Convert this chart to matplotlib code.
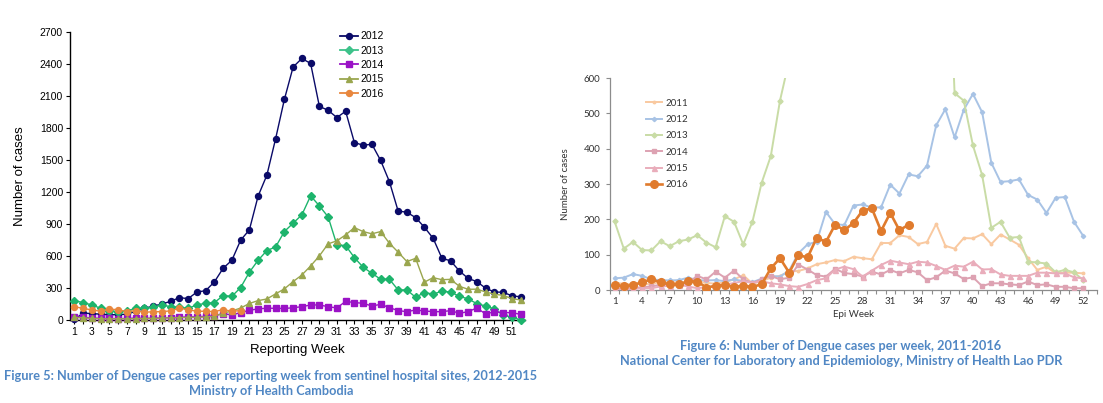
import numpy as np
import matplotlib.pyplot as plt
from matplotlib.ticker import MultipleLocator, FixedLocator

# ---- Cambodia, sentinel sites (left chart) ----
kh_weeks = np.arange(1, 53)
kh_2012 = [5, 65, 60, 55, 50, 50, 55, 80, 110, 130, 150, 175, 210, 200, 262, 275, 357, 485, 560, 748,
           845, 1162, 1358, 1700, 2068, 2372, 2452, 2405, 2003, 1966, 1898, 1957, 1664, 1638, 1648, 1496,
           1298, 1022, 1010, 960, 870, 766, 580, 554, 460, 390, 360, 298, 263, 260, 227, 217]
kh_2013 = [182, 163, 141, 110, 88, 78, 85, 110, 110, 119, 141, 125, 119, 110, 141, 157, 163, 229, 222, 304,
           448, 560, 651, 685, 829, 908, 986, 1164, 1070, 967, 704, 698, 585, 495, 438, 382, 382, 282, 282,
           213, 257, 243, 270, 262, 222, 198, 153, 131, 103, 44, 28, 0]
kh_2014 = [31, 25, 20, 15, 15, 12, 15, 18, 15, 18, 20, 22, 25, 30, 30, 35, 40, 60, 47, 70,
           90, 105, 110, 110, 108, 115, 125, 141, 141, 125, 113, 175, 163, 157, 131, 147, 116, 88, 78,
           94, 85, 78, 78, 88, 63, 78, 113, 56, 78, 69, 69, 53]
kh_2015 = [25, 20, 15, 12, 10, 12, 10, 12, 15, 15, 18, 20, 22, 25, 25, 28, 35, 63, 85, 112,
           155, 182, 197, 245, 292, 360, 422, 507, 601, 714, 742, 798, 866, 829, 808, 829, 720, 636, 548,
           578, 355, 397, 378, 381, 316, 288, 289, 263, 242, 231, 200, 188]
kh_2016 = [126, 108, 95, 82, 104, 95, 79, 88, 72, 78, 78, 86, 110, 97, 82, 82, 78, 98, 82, 88]

# ---- Lao PDR (right chart) ----
la_weeks = np.arange(1, 53)
la_2011 = [20, 18, 15, 20, 15, 25, 20, 22, 20, 25, 20, 18, 22, 30, 42, 18, 25, 35, 40, 52,
           54, 61, 73, 78, 85, 82, 94, 90, 87, 133, 133, 155, 150, 130, 136, 187, 125, 117, 147, 146,
           158, 130, 157, 143, 128, 90, 57, 66, 47, 49, 49, 47]
la_2012 = [33, 35, 45, 40, 30, 28, 27, 28, 35, 28, 27, 28, 25, 30, 25, 22, 32, 40, 38, 55,
           104, 129, 137, 221, 186, 184, 239, 242, 233, 234, 298, 273, 327, 322, 352, 466, 512, 432, 510,
           555, 503, 360, 306, 308, 313, 269, 256, 218, 261, 263, 193, 153]
la_2013 = [194, 117, 136, 113, 112, 138, 124, 138, 143, 155, 134, 121, 209, 193, 129, 193, 303, 379, 536,
           650, 820, 1000, 1150, 1300, 1450, 1550, 1650, 1700, 1750, 1700, 1650, 1600, 1500, 1400, 1300,
           1250, 1200, 557, 536, 409, 325, 176, 193, 148, 150, 80, 78, 75, 50, 57, 50, 28]
la_2014 = [5, 3, 5, 8, 10, 15, 18, 15, 20, 40, 30, 52, 35, 55, 30, 20, 30, 40, 30, 35,
           72, 58, 42, 38, 60, 48, 45, 38, 52, 44, 57, 47, 57, 50, 28, 36, 55, 47, 31, 36,
           11, 19, 19, 16, 14, 24, 14, 16, 9, 9, 5, 5]
la_2015 = [0, 2, 3, 5, 5, 10, 12, 15, 10, 5, 8, 10, 15, 20, 25, 20, 25, 19, 16, 11,
           9, 17, 28, 33, 58, 66, 59, 38, 55, 71, 83, 78, 73, 80, 78, 68, 57, 69, 66, 80,
           58, 59, 44, 40, 40, 40, 49, 49, 47, 47, 36, 33]
la_2016 = [14, 11, 14, 22, 30, 22, 16, 16, 25, 24, 7, 12, 14, 9, 12, 9, 16, 61, 90, 49,
           99, 92, 148, 136, 185, 169, 190, 225, 231, 167, 218, 169, 185]

fig = plt.figure(figsize=(11.03, 4.03), dpi=100)

# ================= left chart =================
ax1 = fig.add_axes([70 / 1103, 1 - 320 / 403, 455 / 1103, 288 / 403])
arial = 'Liberation Sans'

kh_series = [
    ('2012', kh_2012, '#0A0A68', 'o', 4.3, '#0A0A68'),
    ('2013', kh_2013, '#1DB46C', 'D', 4.0, '#3DC28A'),
    ('2014', kh_2014, '#9A12C6', 's', 4.2, '#9A12C6'),
    ('2015', kh_2015, '#9AA64E', '^', 4.8, '#9AA64E'),
    ('2016', kh_2016, '#E8873E', 'o', 4.3, '#E8873E'),
]
handles = []
for i, (lab, vals, col, mk, ms, legcol) in enumerate(kh_series):
    ax1.plot(kh_weeks[:len(vals)], vals, color=col, marker=mk, ms=ms, lw=1.0,
             mec=col, mfc=col, zorder=3 + i, clip_on=False)
    h, = ax1.plot([], [], color=legcol, marker=mk, ms=ms, lw=1.3, mec=legcol, mfc=legcol)
    handles.append(h)

ax1.set_xlim(0.5, 52.5)
ax1.set_ylim(0, 2700)
ax1.xaxis.set_major_locator(FixedLocator(np.arange(1, 53, 2)))
ax1.xaxis.set_minor_locator(FixedLocator(np.arange(2, 53, 2)))
ax1.yaxis.set_major_locator(MultipleLocator(300))
for s in ['top', 'right']:
    ax1.spines[s].set_visible(False)
ax1.spines['left'].set_linewidth(1.0)
ax1.spines['bottom'].set_linewidth(1.0)
ax1.tick_params(axis='both', direction='out', length=3, width=0.8, labelsize=7.5, pad=2)
ax1.tick_params(axis='x', which='minor', direction='out', length=3, width=0.8)
for t in ax1.get_xticklabels() + ax1.get_yticklabels():
    t.set_fontfamily(arial)
ax1.set_xlabel('Reporting Week', fontsize=9.5, family=arial, labelpad=5)
ax1.set_ylabel('Number of cases', fontsize=9.5, family=arial, labelpad=10)

leg1 = ax1.legend(handles, [s[0] for s in kh_series], loc='upper left',
                  bbox_to_anchor=(335 / 1103, 1 - 26 / 403), bbox_transform=fig.transFigure,
                  frameon=False, fontsize=7.5, handlelength=1.7, handletextpad=0.2,
                  labelspacing=0.42, borderpad=0)
for t in leg1.get_texts():
    t.set_fontfamily(arial)

# ================= right chart =================
ax2 = fig.add_axes([610 / 1103, 1 - 290 / 403, 487 / 1103, 212 / 403])
cal = 'Lato'
grey = '#8C8C8C'

la_series = [
    ('2011', la_2011, '#F9C9A0', 'o', 1.8, 1.4),
    ('2012', la_2012, '#A8C3E5', 'D', 2.2, 1.4),
    ('2013', la_2013, '#C9DCA6', 'D', 2.6, 1.4),
    ('2014', la_2014, '#DDA2B2', 's', 3.0, 1.4),
    ('2015', la_2015, '#E9ADBB', '^', 3.6, 1.4),
    ('2016', la_2016, '#E07B2D', 'o', 5.5, 1.9),
]
for i, (lab, vals, col, mk, ms, lw) in enumerate(la_series):
    ax2.plot(la_weeks[:len(vals)], vals, color=col, marker=mk, ms=ms, lw=lw,
             mec=col, mfc=col, zorder=3 + i, label=lab)

ax2.set_xlim(0.5, 53.5)
ax2.set_ylim(0, 600)
ax2.xaxis.set_major_locator(FixedLocator(np.arange(1, 53, 3)))
ax2.xaxis.set_minor_locator(FixedLocator(np.arange(0.5, 54, 1)))
ax2.yaxis.set_major_locator(MultipleLocator(100))
for s in ['top', 'right']:
    ax2.spines[s].set_visible(False)
for s in ['left', 'bottom']:
    ax2.spines[s].set_color(grey)
    ax2.spines[s].set_linewidth(0.9)
ax2.tick_params(axis='x', which='major', length=0, labelsize=7, pad=5, colors='#333333')
ax2.tick_params(axis='x', which='minor', direction='out', length=3, width=0.8, color=grey)
ax2.tick_params(axis='y', direction='out', length=3, width=0.8, color=grey, labelsize=7,
                pad=4, labelcolor='#333333')
for t in ax2.get_xticklabels() + ax2.get_yticklabels():
    t.set_fontfamily(cal)
ax2.set_xlabel('Epi Week', fontsize=7, family=cal, color='#333333', labelpad=3)
ax2.set_ylabel('Number of cases', fontsize=7, family=cal, color='#333333', labelpad=10)

leg2 = ax2.legend(loc='upper left', bbox_to_anchor=(641 / 1103, 1 - 94 / 403),
                  bbox_transform=fig.transFigure, frameon=False, fontsize=7,
                  handlelength=1.7, handletextpad=0.3, labelspacing=0.75, borderpad=0)
for t in leg2.get_texts():
    t.set_fontfamily(cal)
    t.set_color('#333333')

# ================= captions =================
cap = '#5087C4'
cap_size = 9.2
fig.text(271 / 1103, 1 - 376 / 403,
         'Figure 5: Number of Dengue cases per reporting week from sentinel hospital sites, 2012-2015',
         ha='center', va='center', fontsize=cap_size, fontweight='bold', color=cap, family=cal)
fig.text(271 / 1103, 1 - 391 / 403, 'Ministry of Health Cambodia',
         ha='center', va='center', fontsize=cap_size, fontweight='bold', color=cap, family=cal)
fig.text(841 / 1103, 1 - 346 / 403, 'Figure 6: Number of Dengue cases per week, 2011-2016',
         ha='center', va='center', fontsize=cap_size, fontweight='bold', color=cap, family=cal)
fig.text(841 / 1103, 1 - 361 / 403,
         'National Center for Laboratory and Epidemiology, Ministry of Health Lao PDR',
         ha='center', va='center', fontsize=cap_size, fontweight='bold', color=cap, family=cal)

fig.savefig('out.png', dpi=100)
